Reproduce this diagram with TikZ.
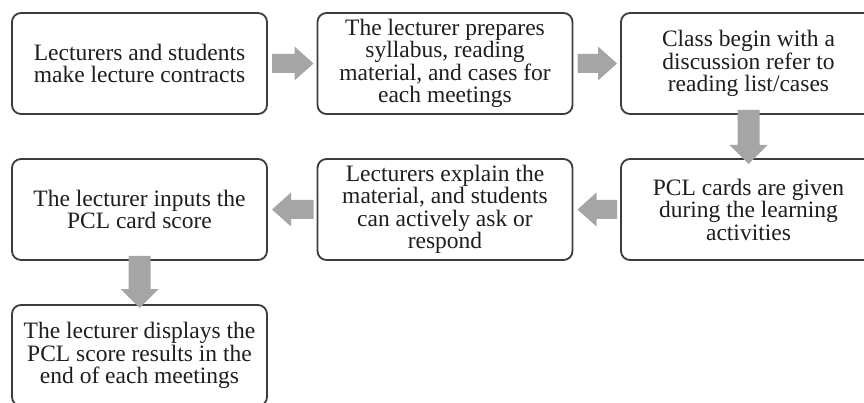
\documentclass[tikz,border=0pt]{standalone}
\usepackage{fontspec}
\setmainfont{Liberation Serif}
\usetikzlibrary{calc}
\definecolor{arrowgray}{HTML}{A5A5A5}
\definecolor{boxline}{HTML}{3C3C3C}
\definecolor{txt}{HTML}{1E1E1E}
\newcommand\harrow[2]{\fill[arrowgray] let \p1=(#1),\p2=(#2),\n1={sign(\x2-\x1)} in
  (\x1,{\y1+9.5pt}) -- ({\x2-\n1*19pt},{\y1+9.5pt}) -- ({\x2-\n1*19pt},{\y1+17pt})
  -- (\x2,\y1) -- ({\x2-\n1*19pt},{\y1-17pt}) -- ({\x2-\n1*19pt},{\y1-9.5pt})
  -- (\x1,{\y1-9.5pt}) -- cycle;}
\newcommand\varrow[2]{\fill[arrowgray] let \p1=(#1),\p2=(#2),\n1={sign(\y2-\y1)} in
  ({\x1+11pt},\y1) -- ({\x1+11pt},{\y2-\n1*19pt}) -- ({\x1+19pt},{\y2-\n1*19pt})
  -- (\x1,\y2) -- ({\x1-19pt},{\y2-\n1*19pt}) -- ({\x1-11pt},{\y2-\n1*19pt})
  -- ({\x1-11pt},\y1) -- cycle;}
\begin{document}
\begin{tikzpicture}[x=1pt,y=-1pt,
  stepbox/.style={draw=boxline, line width=1.8pt, rounded corners=9pt, fill=white,
    minimum width=255pt, minimum height=101pt, inner sep=0pt, outer sep=0pt,
    align=center, text=txt, font=\fontsize{23.5}{22.5}\selectfont}]
\useasboundingbox (0,0) rectangle (864,403);
\clip (0,0) rectangle (864,403);
\fill[white] (0,0) rectangle (864,403);
\node[stepbox] (b1) at (139.5,63.5) {Lecturers and students\\make lecture contracts};
\node[stepbox] (b2) at (445,63.5) {The lecturer prepares\\syllabus, reading\\material, and cases for\\each meetings};
\node[stepbox] (b3) at (748.5,63.5) {Class begin with a\\discussion refer to\\reading list/cases};
\node[stepbox] (b4) at (748.5,209.5) {PCL cards are given\\during the learning\\activities};
\node[stepbox] (b5) at (445,209.5) {Lecturers explain the\\material, and students\\can actively ask or\\respond};
\node[stepbox] (b6) at (139.5,209.5) {The lecturer inputs the\\PCL card score};
\node[stepbox] (b7) at (139.5,355.5) {The lecturer displays the\\PCL score results in the\\end of each meetings};
\harrow{[xshift=5pt]b1.east}{[xshift=-4pt]b2.west}
\harrow{[xshift=5pt]b2.east}{[xshift=-4pt]b3.west}
\varrow{[yshift=4pt]b3.south}{[yshift=-5pt]b4.north}
\harrow{[xshift=-4pt]b4.west}{[xshift=5pt]b5.east}
\harrow{[xshift=-4pt]b5.west}{[xshift=5pt]b6.east}
\varrow{[yshift=4pt]b6.south}{[yshift=-3pt]b7.north}
\end{tikzpicture}
\end{document}
